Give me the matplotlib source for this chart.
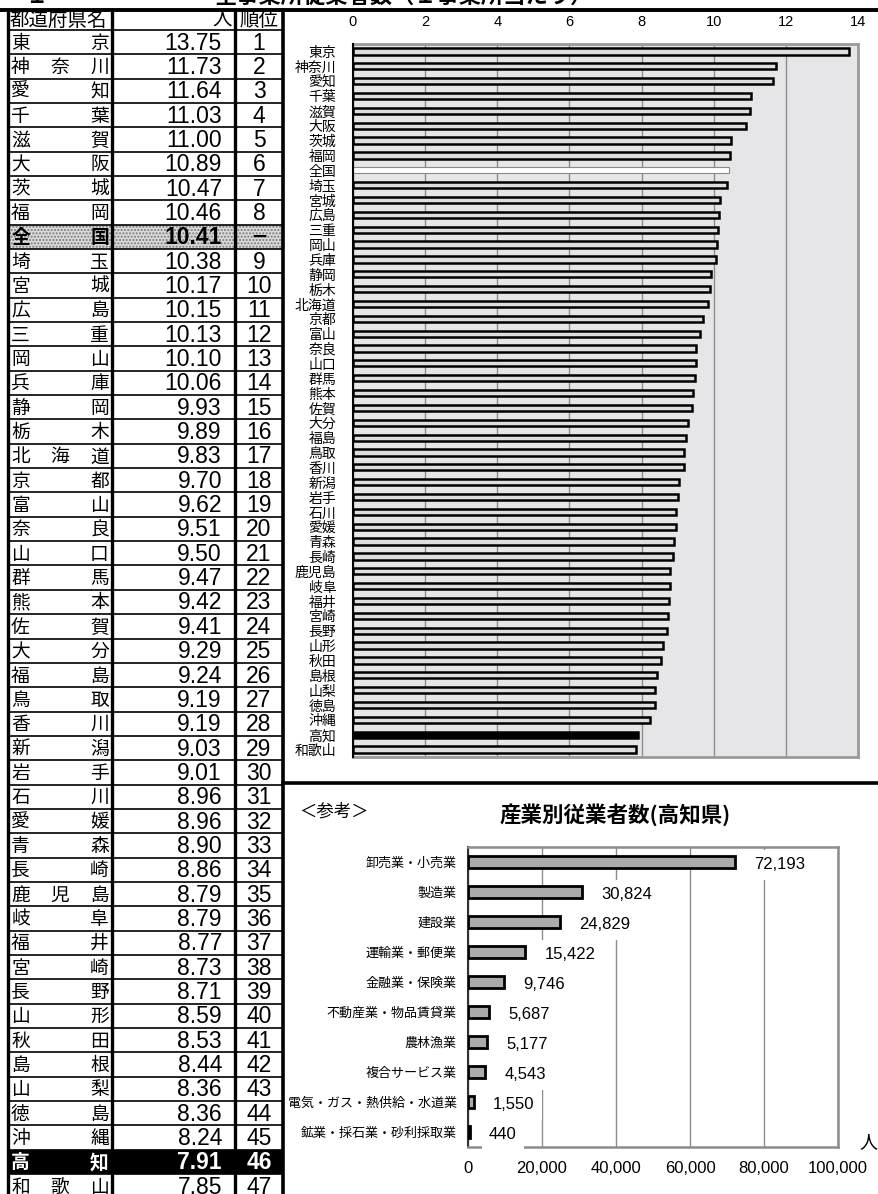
import numpy as np
import matplotlib.pyplot as plt
from matplotlib.patches import Rectangle

plt.rcParams['font.family'] = ['Noto Sans CJK JP', 'DejaVu Sans']
NUM_FONT = ['Liberation Sans Narrow', 'Liberation Sans', 'Noto Sans CJK JP', 'DejaVu Sans']

# ---- data ----
prefs = ['東京', '神奈川', '愛知', '千葉', '滋賀', '大阪', '茨城', '福岡', '全国',
         '埼玉', '宮城', '広島', '三重', '岡山', '兵庫', '静岡', '栃木', '北海道',
         '京都', '富山', '奈良', '山口', '群馬', '熊本', '佐賀', '大分', '福島',
         '鳥取', '香川', '新潟', '岩手', '石川', '愛媛', '青森', '長崎', '鹿児島',
         '岐阜', '福井', '宮崎', '長野', '山形', '秋田', '島根', '山梨', '徳島',
         '沖縄', '高知', '和歌山']
values = [13.75, 11.73, 11.64, 11.03, 11.00, 10.89, 10.47, 10.46, 10.41,
          10.38, 10.17, 10.15, 10.13, 10.10, 10.06, 9.93, 9.89, 9.83,
          9.70, 9.62, 9.51, 9.50, 9.47, 9.42, 9.41, 9.29, 9.24,
          9.19, 9.19, 9.03, 9.01, 8.96, 8.96, 8.90, 8.86, 8.79,
          8.79, 8.77, 8.73, 8.71, 8.59, 8.53, 8.44, 8.36, 8.36,
          8.24, 7.91, 7.85]
ranks = ['1', '2', '3', '4', '5', '6', '7', '8', '－',
         '9', '10', '11', '12', '13', '14', '15', '16', '17',
         '18', '19', '20', '21', '22', '23', '24', '25', '26',
         '27', '28', '29', '30', '31', '32', '33', '34', '35',
         '36', '37', '38', '39', '40', '41', '42', '43', '44',
         '45', '46', '47']
pref_ticks = [0, 2, 4, 6, 8, 10, 12, 14]

industries = ['卸売業・小売業', '製造業', '建設業', '運輸業・郵便業', '金融業・保険業',
              '不動産業・物品賃貸業', '農林漁業', '複合サービス業',
              '電気・ガス・熱供給・水道業', '鉱業・採石業・砂利採取業']
workers = [72193, 30824, 24829, 15422, 9746, 5687, 5177, 4543, 1550, 440]
worker_ticks = [0, 20000, 40000, 60000, 80000, 100000]

W, H = 879, 1194
fig = plt.figure(figsize=(W / 100, H / 100), dpi=100)

# full-figure axes in pixel coordinates for the table and frame
base = fig.add_axes([0, 0, 1, 1])
base.set_xlim(0, W)
base.set_ylim(H, 0)
base.axis('off')

# title, cut off at the top edge as in the source
base.text(25, 8, '１', fontsize=16, fontweight='bold', va='bottom')
base.text(215, 8, '全事業所従業者数（１事業所当たり）', fontsize=16,
          fontweight='bold', va='bottom')

# ---- table ----
x0, x1, x2, x3 = 8, 112, 235, 283
head_top, head_bot = 10, 30
rh = 24.34

base.text(10, 20, '都道府県名', fontsize=14, va='center')
base.text(232, 20, '人', fontsize=14, va='center', ha='right')
base.text(259, 20, '順位', fontsize=14, va='center', ha='center')

for i, (p, v, r) in enumerate(zip(prefs, values, ranks)):
    top = head_bot + i * rh
    cy = top + rh / 2 + 1
    color = 'black'
    weight = 'normal'
    if p == '全国':
        base.add_patch(Rectangle((x0, top), x3 - x0, rh, facecolor='#dadada',
                                 edgecolor='#7a7a7a', hatch='.....', lw=0))
        weight = 'bold'
    if p == '高知':
        base.add_patch(Rectangle((x0, top), x3 - x0, rh, facecolor='black', lw=0))
        color = 'white'
        weight = 'bold'
    n = len(p)
    cw = 19
    for k, ch in enumerate(p):
        cx = x0 + 3 + cw / 2 + k * (98 - cw) / (n - 1)
        base.text(cx, cy, ch, fontsize=13.5, ha='center', va='center',
                  color=color, fontweight=weight)
    base.text(222, cy, f'{v:.2f}', fontsize=16.5, ha='right', va='center',
              color=color, fontweight=weight, family=NUM_FONT)
    rank_size = 13 if r == '－' else 16.5
    base.text(259, cy, r, fontsize=rank_size, ha='center', va='center',
              color=color, fontweight='heavy' if r == '－' else weight,
              family=NUM_FONT)
    base.plot([x0, x3], [top, top], color='black', lw=1.2)

for xv in (x0, x1, x2):
    base.plot([xv, xv], [head_top, H], color='black', lw=2.4)
base.plot([x3, x3], [head_top, H], color='black', lw=2.6)
base.plot([0, W], [head_top, head_top], color='black', lw=2.8)
base.plot([x3, W], [783, 783], color='black', lw=2.6)

# ---- top bar chart ----
ax = fig.add_axes([353 / W, 1 - 757 / H, 505 / W, 713 / H])
ypos = np.arange(len(prefs))
faces = []
edges = []
lws = []
for p in prefs:
    if p == '全国':
        faces.append('white'); edges.append('#8a8a8a'); lws.append(0.8)
    elif p == '高知':
        faces.append('black'); edges.append('black'); lws.append(1.8)
    else:
        faces.append('#dedede'); edges.append('black'); lws.append(1.8)
ax.barh(ypos, values, height=0.42, color=faces, edgecolor=edges, linewidth=lws,
        zorder=3)
ax.set_facecolor('#e6e6e8')
ax.set_xlim(0, 14)
ax.set_ylim(len(prefs) - 0.5, -0.5)
ax.set_xticks(pref_ticks)
ax.xaxis.tick_top()
ax.tick_params(axis='x', length=0, pad=11, labelsize=10.5)
for lab in ax.get_xticklabels():
    lab.set_family(NUM_FONT)
ax.set_yticks(ypos)
ax.set_yticklabels(prefs, fontsize=10)
ax.tick_params(axis='y', length=0, pad=12)
ax.grid(axis='x', color='#8c8c8c', lw=1, zorder=1)
for side in ('top', 'right', 'bottom'):
    ax.spines[side].set_color('#9a9a9a')
    ax.spines[side].set_linewidth(2)
ax.spines['left'].set_color('black')
ax.spines['left'].set_linewidth(1.5)
ax.spines['left'].set_zorder(4)

# ---- bottom bar chart ----
base.text(299, 812, '＜参考＞', fontsize=12.5, va='center')
base.text(615, 815, '産業別従業者数(高知県)', fontsize=15.5, fontweight='bold',
          va='center', ha='center')

bx = fig.add_axes([468 / W, 1 - 1147 / H, 370 / W, 300 / H])
ipos = np.arange(len(industries))
bx.barh(ipos, workers, height=0.42, color='#ababab', edgecolor='black',
        linewidth=2, zorder=3)
bx.set_xlim(0, 100000)
bx.set_ylim(len(industries) - 0.5, -0.5)
bx.set_xticks(worker_ticks)
bx.set_xticklabels([f'{t:,}' for t in worker_ticks], family=NUM_FONT)
bx.tick_params(axis='x', length=0, pad=10, labelsize=12)
bx.set_yticks(ipos)
bx.set_yticklabels(industries, fontsize=9.4)
bx.tick_params(axis='y', length=0, pad=8)
bx.grid(axis='x', color='#8c8c8c', lw=1, zorder=1)
for yv, wv in zip(ipos, workers):
    bx.annotate(f'{wv:,}', (wv, yv), xytext=(14, -2), textcoords='offset points',
                ha='left', va='center', fontsize=12, family=NUM_FONT, zorder=5,
                bbox=dict(boxstyle='square,pad=0.45', fc='white', ec='none'))
for side in ('top', 'right', 'bottom'):
    bx.spines[side].set_color('#8c8c8c')
    bx.spines[side].set_linewidth(1.8)
bx.spines['left'].set_color('#333333')
bx.spines['left'].set_linewidth(1.5)
base.text(868, 1142, '人', fontsize=13, ha='center', va='center')

fig.savefig('out.png', dpi=100)
